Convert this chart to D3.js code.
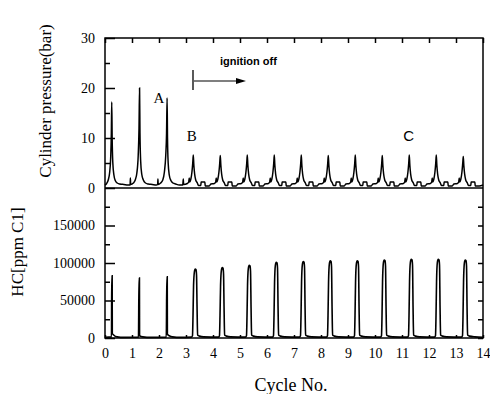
<!DOCTYPE html>
<html>
<head>
<meta charset="utf-8">
<script src="https://cdn.jsdelivr.net/npm/d3@7.9.0/dist/d3.min.js"></script>
<style>
  body { margin: 0; background: #fff; }
  svg { display: block; }
  .serif { font-family: "Liberation Serif", "DejaVu Serif", serif; }
  .sans { font-family: "Liberation Sans", Arial, sans-serif; }
</style>
</head>
<body>
<svg id="chart" width="490" height="394"></svg>
<script>
// tick labels
const cycleTicks = [0, 1, 2, 3, 4, 5, 6, 7, 8, 9, 10, 11, 12, 13, 14];
const pressureTicks = [0, 10, 20, 30];
const pressureMinor = [5, 15, 25];
const hcTicks = [0, 50000, 100000, 150000];
const hcMinor = [25000, 75000, 125000, 175000];

// cylinder pressure trace [cycle, bar]
const pressureTrace = [
  [0.0, 0.6], [0.06, 0.9], [0.12, 1.6], [0.17, 3.0], [0.21, 6.0], [0.235, 11], [0.25, 17.2], [0.265, 10], [0.29, 5.0], [0.33, 2.6], [0.38, 1.5], [0.45, 1.0], [0.55, 0.8], [0.7, 0.7], [0.85, 0.6], [0.93, 0.6], [0.94, 2.0], [0.95, 0.7],
  [1.05, 1.0], [1.12, 1.6], [1.18, 3.0], [1.23, 6.5], [1.26, 12], [1.28, 20], [1.295, 11], [1.32, 5.5], [1.36, 2.8], [1.42, 1.6], [1.5, 1.0], [1.6, 0.8], [1.75, 0.7], [1.9, 0.6], [1.95, 0.7], [1.96, 1.8], [1.97, 0.7],
  [2.06, 1.0], [2.14, 1.6], [2.2, 3.2], [2.25, 6.5], [2.28, 11], [2.3, 18], [2.315, 10], [2.34, 5.0], [2.38, 2.6], [2.44, 1.5], [2.52, 1.0], [2.62, 0.8], [2.75, 0.6], [2.88, 0.6], [2.9, 1.8], [2.91, 0.7],
  [3.05, 0.9], [3.1, 1.2], [3.12, 2.0], [3.13, 1.2], [3.18, 1.8], [3.22, 3.2], [3.25, 5.0], [3.27, 6.6], [3.29, 4.6], [3.32, 2.8], [3.36, 1.6], [3.42, 1.0], [3.46, 0.5], [3.55, 0.5], [3.56, 1.2], [3.7, 1.2], [3.71, 0.4], [3.86, 0.4], [3.92, 0.8],
  [4.05, 0.9], [4.1, 1.2], [4.12, 2.0], [4.13, 1.2], [4.18, 1.8], [4.22, 3.2], [4.25, 5.0], [4.27, 6.5], [4.29, 4.6], [4.32, 2.8], [4.36, 1.6], [4.42, 1.0], [4.46, 0.5], [4.55, 0.5], [4.56, 1.2], [4.7, 1.2], [4.71, 0.4], [4.86, 0.4], [4.92, 0.8],
  [5.05, 0.9], [5.1, 1.2], [5.12, 2.0], [5.13, 1.2], [5.18, 1.8], [5.22, 3.2], [5.25, 5.0], [5.27, 6.6], [5.29, 4.6], [5.32, 2.8], [5.36, 1.6], [5.42, 1.0], [5.46, 0.5], [5.55, 0.5], [5.56, 1.2], [5.7, 1.2], [5.71, 0.4], [5.86, 0.4], [5.92, 0.8],
  [6.05, 0.9], [6.1, 1.2], [6.12, 2.0], [6.13, 1.2], [6.18, 1.8], [6.22, 3.2], [6.25, 5.0], [6.27, 6.6], [6.29, 4.6], [6.32, 2.8], [6.36, 1.6], [6.42, 1.0], [6.46, 0.5], [6.55, 0.5], [6.56, 1.2], [6.7, 1.2], [6.71, 0.4], [6.86, 0.4], [6.92, 0.8],
  [7.05, 0.9], [7.1, 1.2], [7.12, 2.0], [7.13, 1.2], [7.18, 1.8], [7.22, 3.2], [7.25, 5.0], [7.27, 6.6], [7.29, 4.6], [7.32, 2.8], [7.36, 1.6], [7.42, 1.0], [7.46, 0.5], [7.55, 0.5], [7.56, 1.2], [7.7, 1.2], [7.71, 0.4], [7.86, 0.4], [7.92, 0.8],
  [8.05, 0.9], [8.1, 1.2], [8.12, 2.0], [8.13, 1.2], [8.18, 1.8], [8.22, 3.2], [8.25, 5.0], [8.27, 6.5], [8.29, 4.6], [8.32, 2.8], [8.36, 1.6], [8.42, 1.0], [8.46, 0.5], [8.55, 0.5], [8.56, 1.2], [8.7, 1.2], [8.71, 0.4], [8.86, 0.4], [8.92, 0.8],
  [9.05, 0.9], [9.1, 1.2], [9.12, 2.0], [9.13, 1.2], [9.18, 1.8], [9.22, 3.2], [9.25, 5.0], [9.27, 6.6], [9.29, 4.6], [9.32, 2.8], [9.36, 1.6], [9.42, 1.0], [9.46, 0.5], [9.55, 0.5], [9.56, 1.2], [9.7, 1.2], [9.71, 0.4], [9.86, 0.4], [9.92, 0.8],
  [10.05, 0.9], [10.1, 1.2], [10.12, 2.0], [10.13, 1.2], [10.18, 1.8], [10.22, 3.2], [10.25, 5.0], [10.27, 6.5], [10.29, 4.6], [10.32, 2.8], [10.36, 1.6], [10.42, 1.0], [10.46, 0.5], [10.55, 0.5], [10.56, 1.2], [10.7, 1.2], [10.71, 0.4], [10.86, 0.4], [10.92, 0.8],
  [11.05, 0.9], [11.1, 1.2], [11.12, 2.0], [11.13, 1.2], [11.18, 1.8], [11.22, 3.2], [11.25, 5.0], [11.27, 6.6], [11.29, 4.6], [11.32, 2.8], [11.36, 1.6], [11.42, 1.0], [11.46, 0.5], [11.55, 0.5], [11.56, 1.2], [11.7, 1.2], [11.71, 0.4], [11.86, 0.4], [11.92, 0.8],
  [12.05, 0.9], [12.1, 1.2], [12.12, 2.0], [12.13, 1.2], [12.18, 1.8], [12.22, 3.2], [12.25, 5.0], [12.27, 6.6], [12.29, 4.6], [12.32, 2.8], [12.36, 1.6], [12.42, 1.0], [12.46, 0.5], [12.55, 0.5], [12.56, 1.2], [12.7, 1.2], [12.71, 0.4], [12.86, 0.4], [12.92, 0.8],
  [13.05, 0.9], [13.1, 1.2], [13.12, 2.0], [13.13, 1.2], [13.18, 1.8], [13.22, 3.2], [13.25, 5.0], [13.27, 6.3], [13.29, 4.5], [13.32, 2.8], [13.36, 1.6], [13.42, 1.0], [13.46, 0.5], [13.55, 0.5], [13.56, 1.2], [13.7, 1.2], [13.71, 0.4], [13.86, 0.4], [14.0, 0.6]
];

// HC concentration trace [cycle, ppm C1]
const hcTrace = [
  [0.0, 800], [0.24, 1500], [0.25, 83000], [0.265, 83000], [0.27, 6000], [0.32, 4000], [0.45, 1500], [0.7, 800],
  [1.24, 1000], [1.26, 80000], [1.275, 80000], [1.28, 3000], [1.4, 1500], [1.7, 800],
  [2.27, 1000], [2.29, 81500], [2.305, 81500], [2.31, 5000], [2.38, 3000], [2.5, 1500], [2.8, 800],
  [3.2, 1200], [3.24, 3000], [3.26, 30000], [3.28, 70000], [3.31, 88000], [3.34, 92000], [3.37, 91000], [3.39, 84000], [3.41, 40000], [3.43, 4000], [3.5, 2500], [3.65, 1500],
  [4.2, 1200], [4.24, 3000], [4.26, 30000], [4.28, 70000], [4.31, 90000], [4.34, 94000], [4.37, 93000], [4.39, 86000], [4.41, 40000], [4.43, 4000], [4.5, 2500], [4.65, 1500],
  [5.2, 1200], [5.24, 3000], [5.26, 30000], [5.28, 72000], [5.31, 93000], [5.34, 97000], [5.37, 96000], [5.39, 89000], [5.41, 40000], [5.43, 4000], [5.5, 2500], [5.65, 1500],
  [6.2, 1200], [6.24, 3000], [6.26, 30000], [6.28, 74000], [6.31, 97000], [6.34, 101000], [6.37, 100000], [6.39, 93000], [6.41, 40000], [6.43, 4000], [6.5, 2500], [6.65, 1500],
  [7.2, 1200], [7.24, 3000], [7.26, 30000], [7.28, 75000], [7.31, 98000], [7.34, 102000], [7.37, 101000], [7.39, 94000], [7.41, 40000], [7.43, 4000], [7.5, 2500], [7.65, 1500],
  [8.2, 1200], [8.24, 3000], [8.26, 30000], [8.28, 75000], [8.31, 99000], [8.34, 103000], [8.37, 102000], [8.39, 95000], [8.41, 40000], [8.43, 4000], [8.5, 2500], [8.65, 1500],
  [9.2, 1200], [9.24, 3000], [9.26, 30000], [9.28, 75000], [9.31, 99000], [9.34, 103000], [9.37, 102000], [9.39, 95000], [9.41, 40000], [9.43, 4000], [9.5, 2500], [9.65, 1500],
  [10.2, 1200], [10.24, 3000], [10.26, 30000], [10.28, 76000], [10.31, 100000], [10.34, 104000], [10.37, 103000], [10.39, 96000], [10.41, 40000], [10.43, 4000], [10.5, 2500], [10.65, 1500],
  [11.2, 1200], [11.24, 3000], [11.26, 30000], [11.28, 76000], [11.31, 101000], [11.34, 105000], [11.37, 104000], [11.39, 97000], [11.41, 40000], [11.43, 4000], [11.5, 2500], [11.65, 1500],
  [12.2, 1200], [12.24, 3000], [12.26, 30000], [12.28, 76000], [12.31, 101000], [12.34, 105000], [12.37, 104000], [12.39, 97000], [12.41, 40000], [12.43, 4000], [12.5, 2500], [12.65, 1500],
  [13.2, 1200], [13.24, 3000], [13.26, 30000], [13.28, 76000], [13.31, 100000], [13.34, 104000], [13.37, 103000], [13.39, 96000], [13.41, 40000], [13.43, 4000], [13.5, 2500], [13.7, 1500], [14.0, 1000]
];

// annotations [cycle, bar, text]
const peakLabels = [[2.0, 17.0, 'A'], [3.21, 9.5, 'B'], [11.25, 9.5, 'C']];

const svg = d3.select('#chart');
svg.append('rect').attr('width', 490).attr('height', 394).attr('fill', '#fff');

const plotLeft = 105, plotRight = 483, plotTop = 38, plotMid = 188, plotBottom = 338;

const x = d3.scaleLinear().domain([0, 14]).range([plotLeft, plotRight]);
const yP = d3.scaleLinear().domain([0, 30]).range([plotMid, plotTop]);
const yH = d3.scaleLinear().domain([0, 200000]).range([plotBottom, plotMid]);

// traces
const lineP = d3.line().x(d => x(d[0])).y(d => yP(d[1])).curve(d3.curveMonotoneX);
const lineH = d3.line().x(d => x(d[0])).y(d => yH(d[1])).curve(d3.curveMonotoneX);

svg.append('path').datum(pressureTrace).attr('d', lineP)
  .attr('fill', 'none').attr('stroke', '#000').attr('stroke-width', 1.5);
svg.append('path').datum(hcTrace).attr('d', lineH)
  .attr('fill', 'none').attr('stroke', '#000').attr('stroke-width', 1.6);

// axes
function styleAxis(g) {
  g.select('.domain').remove();
  g.selectAll('line').attr('stroke', '#000').attr('stroke-width', 1.5);
  g.selectAll('text').attr('class', 'serif').attr('font-size', 14).attr('fill', '#000');
}

const plain = d3.format('d');

svg.append('g').attr('transform', `translate(${plotLeft},0)`)
  .call(d3.axisLeft(yP).tickValues(pressureTicks).tickSize(-10).tickPadding(10).tickFormat(plain))
  .call(styleAxis);
svg.append('g').attr('transform', `translate(${plotLeft},0)`)
  .call(d3.axisLeft(yP).tickValues(pressureMinor).tickSize(-5).tickFormat(''))
  .call(styleAxis);

svg.append('g').attr('transform', `translate(${plotLeft},0)`)
  .call(d3.axisLeft(yH).tickValues(hcTicks).tickSize(-10).tickPadding(10).tickFormat(plain))
  .call(styleAxis);
svg.append('g').attr('transform', `translate(${plotLeft},0)`)
  .call(d3.axisLeft(yH).tickValues(hcMinor).tickSize(-5).tickFormat(''))
  .call(styleAxis);
svg.append('g').attr('transform', `translate(${plotRight},0)`)
  .call(d3.axisRight(yH).tickValues(hcTicks.concat(hcMinor)).tickSize(-5).tickFormat(''))
  .call(styleAxis);

svg.append('g').attr('transform', `translate(0,${plotTop})`)
  .call(d3.axisTop(x).tickValues(cycleTicks).tickSize(-5).tickFormat(''))
  .call(styleAxis);
svg.append('g').attr('transform', `translate(0,${plotBottom})`)
  .call(d3.axisBottom(x).tickValues(cycleTicks).tickSize(-3).tickPadding(10).tickFormat(plain))
  .call(styleAxis);

// frame
svg.append('rect').attr('x', plotLeft).attr('y', plotTop)
  .attr('width', plotRight - plotLeft).attr('height', plotBottom - plotTop)
  .attr('fill', 'none').attr('stroke', '#000').attr('stroke-width', 1.5);
svg.append('line').attr('x1', plotLeft).attr('x2', plotRight).attr('y1', plotMid).attr('y2', plotMid)
  .attr('stroke', '#000').attr('stroke-width', 1.5);

// axis titles
svg.append('text').attr('class', 'serif')
  .attr('transform', `translate(51,101) rotate(-90)`)
  .attr('text-anchor', 'middle').attr('font-size', 17).text('Cylinder pressure(bar)');
svg.append('text').attr('class', 'serif')
  .attr('transform', `translate(23,252) rotate(-90)`)
  .attr('text-anchor', 'middle').attr('font-size', 17).text('HC[ppm C1]');
svg.append('text').attr('class', 'serif')
  .attr('x', 291).attr('y', 391)
  .attr('text-anchor', 'middle').attr('font-size', 18).text('Cycle No.');

// peak annotations
svg.selectAll('text.peak').data(peakLabels).join('text')
  .attr('class', d => d[2] === 'C' ? 'sans' : 'serif')
  .attr('x', d => x(d[0])).attr('y', d => yP(d[1]))
  .attr('text-anchor', 'middle').attr('font-size', 15).text(d => d[2]);

// ignition off marker
svg.append('text').attr('class', 'sans')
  .attr('x', 220).attr('y', 65).attr('font-size', 11).attr('font-weight', 'bold')
  .text('ignition off');
svg.append('line').attr('x1', 193).attr('x2', 193).attr('y1', 70).attr('y2', 90)
  .attr('stroke', '#000').attr('stroke-width', 1.3);
svg.append('line').attr('x1', 194).attr('x2', 238).attr('y1', 81).attr('y2', 81)
  .attr('stroke', '#000').attr('stroke-width', 1.2);
svg.append('path').attr('d', 'M236,78 L246,81 L236,84 Z').attr('fill', '#000');
</script>
</body>
</html>
